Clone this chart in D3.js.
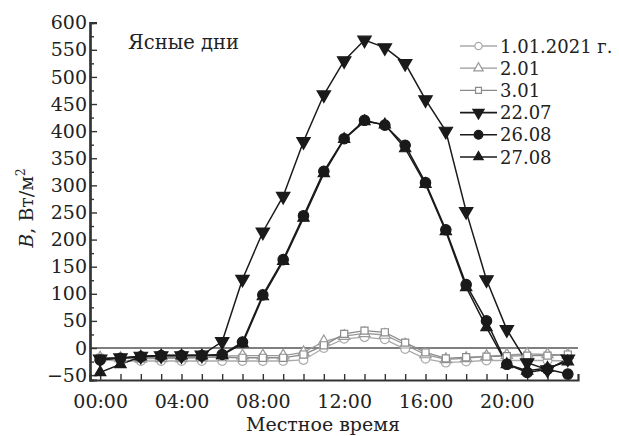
<!DOCTYPE html>
<html lang="ru">
    <head>
        <meta charset="utf-8">
        <title>Ясные дни</title>
        <script type="text/javascript" src="https://cdn.jsdelivr.net/npm/d3@7"></script>
        <style type="text/css">
            body { margin: 0; background: #fff; }
            text { font-family: "DejaVu Serif", "Liberation Serif", serif; fill: #222; }
            .axis path, .axis line { stroke: #333; }
            .line { fill: none; }
        </style>
    </head>
    <body>
        <script type="text/javascript">

        //Width and height
        var w = 619;
        var h = 436;

        //hours of the day (local time)
        var hours = d3.range(0, 24);
        var hourLabels = ["00:00", "04:00", "08:00", "12:00", "16:00", "20:00"];
        var yTicks = [-50, 0, 50, 100, 150, 200, 250, 300, 350, 400, 450, 500, 550, 600];

        //series values (W/m2)
        var names = ["1.01.2021 г.", "2.01", "3.01", "22.07", "26.08", "27.08"];
        var jan01 = [-22, -24, -24, -24, -24, -24, -24, -24, -24, -24, -22, 0, 17, 20, 16, -2, -20, -27, -25, -23, -23, -23, -23, -24];
        var jan02 = [-18, -19, -20, -19, -19, -18, -15, -14, -14, -14, -8, 12, 22, 27, 24, 6, -12, -21, -19, -15, -13, -11, -12, -13];
        var jan03 = [-18, -18, -18, -17, -17, -17, -17, -18, -18, -18, -12, 5, 26, 32, 29, 10, -8, -19, -17, -16, -15, -14, -14, -12];
        var jul22 = [-20, -18, -15, -14, -14, -13, 12, 127, 214, 280, 381, 467, 530, 568, 554, 525, 458, 400, 252, 126, 34, -27, -40, -20];
        var aug26 = [-22, -19, -16, -14, -14, -14, -12, 11, 98, 163, 244, 326, 386, 420, 411, 374, 305, 218, 117, 50, -30, -45, -39, -48];
        var aug27 = [-45, -30, -16, -14, -14, -14, -13, 8, 95, 160, 240, 322, 385, 418, 412, 368, 302, 215, 112, 38, -30, -42, -37, -25];

        var values = [jan01, jan02, jan03, jul22, aug26, aug27];
        var shapes = ["circle", "triangle", "square", "down", "circle", "triangle"];
        var sizes = [60, 55, 50, 78, 85, 55];
        var strokes = ["#aaa", "#999", "#8a8a8a", "#1a1a1a", "#1a1a1a", "#1a1a1a"];
        var filled = [false, false, false, true, true, true];

        var xScale = d3.scaleLinear().domain([-0.5, 23.5]).range([90, 578]);
        var yScale = d3.scaleLinear().domain([-59, 600]).range([380, 22.7]);

        var svg = d3.select("body")
            .append("svg")
            .attr("width", w)
            .attr("height", h);

        //symbol path for each marker kind
        var symbolPath = function(i, small){
            var k = small ? 0.7 : 1;
            var type = shapes[i] == "circle" ? d3.symbolCircle : (shapes[i] == "square" ? d3.symbolSquare : d3.symbolTriangle);
            return d3.symbol().type(type).size(sizes[i] * k)();
        };

        var drawMarker = function(g, i, x, y, small){
            var s = g.append("path")
                .attr("d", symbolPath(i, small))
                .attr("fill", filled[i] ? strokes[i] : "#fff")
                .attr("stroke", strokes[i])
                .attr("stroke-width", 1.2);
            var t = "translate(" + x + "," + y + ")";
            if(shapes[i] == "down") t += " rotate(180)";
            s.attr("transform", t);
        };

        //zero line
        svg.append("line")
            .attr("x1", xScale.range()[0]).attr("x2", xScale.range()[1])
            .attr("y1", yScale(0)).attr("y2", yScale(0))
            .attr("stroke", "#555")
            .attr("stroke-width", 1.6);

        //axes
        var yAxis = d3.axisLeft(yScale).tickValues(yTicks).tickSize(-7).tickPadding(3);
        var yMinor = d3.axisLeft(yScale).tickValues(d3.range(-25, 600, 50)).tickSize(-4).tickFormat("");
        var xAxis = d3.axisBottom(xScale).tickValues(hours).tickSize(-6).tickPadding(15)
            .tickFormat(function(d){ return d % 4 == 0 ? hourLabels[d / 4] : ""; });

        var gy = svg.append("g").attr("class", "axis").attr("transform", "translate(90,0)").call(yAxis);
        var gm = svg.append("g").attr("class", "axis").attr("transform", "translate(90,0)").call(yMinor);
        var gx = svg.append("g").attr("class", "axis").attr("transform", "translate(0,380)").call(xAxis);

        gm.selectAll("text").remove();
        gx.selectAll(".tick text").filter(function(d){ return d % 4 != 0; }).remove();

        svg.selectAll(".axis path").attr("stroke-width", 2.2);
        svg.selectAll(".axis line").attr("stroke-width", 1.4);
        svg.selectAll(".axis text").attr("font-size", 19).attr("fill", "#222")
            .style("font-family", "'DejaVu Serif', serif");
        gy.selectAll("text").text(function(d){ return d < 0 ? "\u2212" + Math.abs(d) : d; });

        //series lines
        var line = d3.line()
            .x(function(d, j){ return xScale(hours[j]); })
            .y(function(d){ return yScale(d); });

        values.forEach(function(v, i){
            svg.append("path")
                .datum(v)
                .attr("class", "line")
                .attr("stroke", strokes[i])
                .attr("stroke-width", filled[i] ? 1.5 : 1.3)
                .attr("d", line);
        });

        values.forEach(function(v, i){
            var g = svg.append("g");
            v.forEach(function(d, j){ drawMarker(g, i, xScale(hours[j]), yScale(d), false); });
        });

        //legend
        var legend = svg.append("g");
        names.forEach(function(n, i){
            var y = 46 + i * 22.2;
            legend.append("line")
                .attr("x1", 460).attr("x2", 497)
                .attr("y1", y).attr("y2", y)
                .attr("stroke", strokes[i])
                .attr("stroke-width", filled[i] ? 1.6 : 1.3);
            drawMarker(legend, i, 478.5, y, true);
            legend.append("text")
                .attr("x", 500).attr("y", y + 6.5)
                .attr("font-size", 18)
                .text(n);
        });

        //labels
        svg.append("text")
            .attr("x", 128).attr("y", 49)
            .attr("font-size", 19.5)
            .text("Ясные дни");

        svg.append("text")
            .attr("x", 323).attr("y", 431)
            .attr("text-anchor", "middle")
            .attr("font-size", 19)
            .text("Местное время");

        var ylab = svg.append("text")
            .attr("transform", "translate(33,208) rotate(-90)")
            .attr("text-anchor", "middle")
            .attr("font-size", 19);
        ylab.append("tspan").attr("font-style", "italic").text("B");
        ylab.append("tspan").text(", Вт/м");
        ylab.append("tspan").attr("font-size", 12).attr("dy", -8).text("2");

        </script>
    </body>
</html>
